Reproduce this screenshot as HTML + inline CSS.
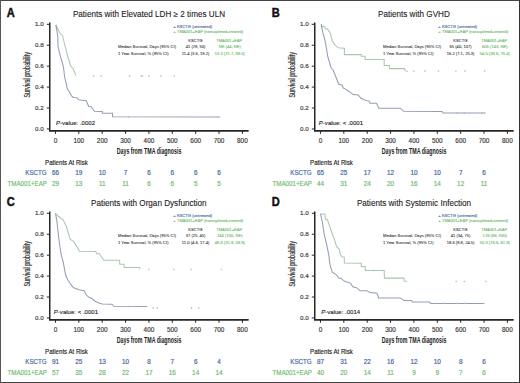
<!DOCTYPE html><html><head><meta charset="utf-8"><style>
html,body{margin:0;padding:0;background:#fff;}
svg{display:block;font-family:"Liberation Sans",sans-serif;}
</style></head><body>
<svg width="520" height="383" viewBox="0 0 520 383">
<rect x="0" y="0" width="520" height="383" fill="#fff"/>
<g transform="translate(0,0)">
<text x="6.80" y="16.90" font-size="12.0" font-weight="bold" fill="#111" stroke="#111" stroke-width="0.45" textLength="8.0" lengthAdjust="spacingAndGlyphs">A</text>
<text x="72.90" y="17.30" font-size="8.15" fill="#222" stroke="#222" stroke-width="0.1">Patients with Elevated LDH ≥ 2 times ULN</text>
<path d="M49.75,23.0 V130.8" fill="none" stroke="#262626" stroke-width="1.5" stroke-linecap="round"/>
<path d="M49.75,130.8 H248.0" fill="none" stroke="#262626" stroke-width="1.8" stroke-linecap="round"/>
<path d="M46.8,24.30 H49.75" stroke="#262626" stroke-width="1"/>
<text transform="translate(43.70,26.25) scale(1,0.86)" font-size="6.3" text-anchor="end" fill="#333" stroke="#333" stroke-width="0.15">1.0</text>
<path d="M46.8,45.23 H49.75" stroke="#262626" stroke-width="1"/>
<text transform="translate(43.70,47.18) scale(1,0.86)" font-size="6.3" text-anchor="end" fill="#333" stroke="#333" stroke-width="0.15">0.8</text>
<path d="M46.8,66.16 H49.75" stroke="#262626" stroke-width="1"/>
<text transform="translate(43.70,68.11) scale(1,0.86)" font-size="6.3" text-anchor="end" fill="#333" stroke="#333" stroke-width="0.15">0.6</text>
<path d="M46.8,87.09 H49.75" stroke="#262626" stroke-width="1"/>
<text transform="translate(43.70,89.04) scale(1,0.86)" font-size="6.3" text-anchor="end" fill="#333" stroke="#333" stroke-width="0.15">0.4</text>
<path d="M46.8,108.02 H49.75" stroke="#262626" stroke-width="1"/>
<text transform="translate(43.70,109.97) scale(1,0.86)" font-size="6.3" text-anchor="end" fill="#333" stroke="#333" stroke-width="0.15">0.2</text>
<path d="M46.8,128.95 H49.75" stroke="#262626" stroke-width="1"/>
<text transform="translate(43.70,130.90) scale(1,0.86)" font-size="6.3" text-anchor="end" fill="#333" stroke="#333" stroke-width="0.15">0.0</text>
<path d="M55.45,130.8 V133.8" stroke="#262626" stroke-width="1"/>
<text x="55.45" y="142.70" font-size="6.4" text-anchor="middle" fill="#333" stroke="#333" stroke-width="0.15">0</text>
<path d="M78.82,130.8 V133.8" stroke="#262626" stroke-width="1"/>
<text x="78.82" y="142.70" font-size="6.4" text-anchor="middle" fill="#333" stroke="#333" stroke-width="0.15">100</text>
<path d="M102.19,130.8 V133.8" stroke="#262626" stroke-width="1"/>
<text x="102.19" y="142.70" font-size="6.4" text-anchor="middle" fill="#333" stroke="#333" stroke-width="0.15">200</text>
<path d="M125.56,130.8 V133.8" stroke="#262626" stroke-width="1"/>
<text x="125.56" y="142.70" font-size="6.4" text-anchor="middle" fill="#333" stroke="#333" stroke-width="0.15">300</text>
<path d="M148.93,130.8 V133.8" stroke="#262626" stroke-width="1"/>
<text x="148.93" y="142.70" font-size="6.4" text-anchor="middle" fill="#333" stroke="#333" stroke-width="0.15">400</text>
<path d="M172.30,130.8 V133.8" stroke="#262626" stroke-width="1"/>
<text x="172.30" y="142.70" font-size="6.4" text-anchor="middle" fill="#333" stroke="#333" stroke-width="0.15">500</text>
<path d="M195.67,130.8 V133.8" stroke="#262626" stroke-width="1"/>
<text x="195.67" y="142.70" font-size="6.4" text-anchor="middle" fill="#333" stroke="#333" stroke-width="0.15">600</text>
<path d="M219.04,130.8 V133.8" stroke="#262626" stroke-width="1"/>
<text x="219.04" y="142.70" font-size="6.4" text-anchor="middle" fill="#333" stroke="#333" stroke-width="0.15">700</text>
<path d="M242.41,130.8 V133.8" stroke="#262626" stroke-width="1"/>
<text x="242.41" y="142.70" font-size="6.4" text-anchor="middle" fill="#333" stroke="#333" stroke-width="0.15">800</text>
<text x="116.70" y="154.10" font-size="8.4" font-weight="bold" fill="#222" textLength="64.7" lengthAdjust="spacingAndGlyphs">Days from TMA diagnosis</text>
<text transform="translate(29.9,97.5) rotate(-90)" x="0" y="0" font-size="8.2" fill="#333" stroke="#333" stroke-width="0.2" textLength="45.5" lengthAdjust="spacingAndGlyphs">Survival probability</text>
<text x="173.20" y="28.30" font-size="4.1" fill="#4669a3" stroke="#4669a3" stroke-width="0.12">+</text>
<text x="176.90" y="28.30" font-size="4.1" fill="#4669a3" stroke="#4669a3" stroke-width="0.12">KSCTG (untreated)</text>
<text x="173.20" y="32.60" font-size="4.1" fill="#70bd70" stroke="#70bd70" stroke-width="0.12">+</text>
<text x="176.90" y="32.60" font-size="4.1" fill="#70bd70" stroke="#70bd70" stroke-width="0.12">TMA001+EAP (narsoplimab-treated)</text>
<text x="195.40" y="41.60" font-size="4.1" text-anchor="middle" fill="#222" stroke="#222" stroke-width="0.05">KSCTG</text>
<text x="229.20" y="41.60" font-size="4.1" text-anchor="middle" fill="#70bd70" stroke="#70bd70" stroke-width="0.12">TMA001+EAP</text>
<text x="118.00" y="47.60" font-size="4.1" fill="#222" stroke="#222" stroke-width="0.05">Median Survival, Days (95% CI)</text>
<text x="118.00" y="54.80" font-size="4.1" fill="#222" stroke="#222" stroke-width="0.05">1 Year Survival, % (95% CI)</text>
<text x="195.60" y="47.60" font-size="4.1" text-anchor="middle" fill="#222" stroke="#222" stroke-width="0.05">41 (29, 50)</text>
<text x="195.60" y="54.80" font-size="4.1" text-anchor="middle" fill="#222" stroke="#222" stroke-width="0.05">11.4 (3.6, 19.2)</text>
<text x="229.80" y="47.60" font-size="4.1" text-anchor="middle" fill="#70bd70" stroke="#70bd70" stroke-width="0.12">NE (44, NE)</text>
<text x="229.80" y="54.80" font-size="4.1" text-anchor="middle" fill="#70bd70" stroke="#70bd70" stroke-width="0.12">53.3 (31.7, 69.0)</text>
<text x="56.00" y="125.00" font-size="6.05" fill="#222" stroke="#222" stroke-width="0.12"><tspan font-style="italic">P</tspan>-value: .0002</text>
<text transform="translate(45.10,164.90) scale(1,1.12)" font-size="6.1" fill="#222" stroke="#222" stroke-width="0.14">Patients At Risk</text>
<text transform="translate(46.60,175.40) scale(1,1.15)" font-size="6.2" text-anchor="end" fill="#4669a3" stroke="#4669a3" stroke-width="0.15">KSCTG</text>
<text transform="translate(46.90,185.70) scale(1,1.15)" font-size="6.2" text-anchor="end" fill="#70bd70" stroke="#70bd70" stroke-width="0.15">TMA001+EAP</text>
<text transform="translate(55.45,175.40) scale(1,1.12)" font-size="6.4" text-anchor="middle" fill="#4669a3" stroke="#4669a3" stroke-width="0.18">66</text>
<text transform="translate(55.45,185.70) scale(1,1.12)" font-size="6.4" text-anchor="middle" fill="#70bd70" stroke="#70bd70" stroke-width="0.18">29</text>
<text transform="translate(78.82,175.40) scale(1,1.12)" font-size="6.4" text-anchor="middle" fill="#4669a3" stroke="#4669a3" stroke-width="0.18">19</text>
<text transform="translate(78.82,185.70) scale(1,1.12)" font-size="6.4" text-anchor="middle" fill="#70bd70" stroke="#70bd70" stroke-width="0.18">13</text>
<text transform="translate(102.19,175.40) scale(1,1.12)" font-size="6.4" text-anchor="middle" fill="#4669a3" stroke="#4669a3" stroke-width="0.18">10</text>
<text transform="translate(102.19,185.70) scale(1,1.12)" font-size="6.4" text-anchor="middle" fill="#70bd70" stroke="#70bd70" stroke-width="0.18">11</text>
<text transform="translate(125.56,175.40) scale(1,1.12)" font-size="6.4" text-anchor="middle" fill="#4669a3" stroke="#4669a3" stroke-width="0.18">7</text>
<text transform="translate(125.56,185.70) scale(1,1.12)" font-size="6.4" text-anchor="middle" fill="#70bd70" stroke="#70bd70" stroke-width="0.18">11</text>
<text transform="translate(148.93,175.40) scale(1,1.12)" font-size="6.4" text-anchor="middle" fill="#4669a3" stroke="#4669a3" stroke-width="0.18">6</text>
<text transform="translate(148.93,185.70) scale(1,1.12)" font-size="6.4" text-anchor="middle" fill="#70bd70" stroke="#70bd70" stroke-width="0.18">6</text>
<text transform="translate(172.30,175.40) scale(1,1.12)" font-size="6.4" text-anchor="middle" fill="#4669a3" stroke="#4669a3" stroke-width="0.18">6</text>
<text transform="translate(172.30,185.70) scale(1,1.12)" font-size="6.4" text-anchor="middle" fill="#70bd70" stroke="#70bd70" stroke-width="0.18">6</text>
<text transform="translate(195.67,175.40) scale(1,1.12)" font-size="6.4" text-anchor="middle" fill="#4669a3" stroke="#4669a3" stroke-width="0.18">6</text>
<text transform="translate(195.67,185.70) scale(1,1.12)" font-size="6.4" text-anchor="middle" fill="#70bd70" stroke="#70bd70" stroke-width="0.18">5</text>
<text transform="translate(219.04,175.40) scale(1,1.12)" font-size="6.4" text-anchor="middle" fill="#4669a3" stroke="#4669a3" stroke-width="0.18">6</text>
<text transform="translate(219.04,185.70) scale(1,1.12)" font-size="6.4" text-anchor="middle" fill="#70bd70" stroke="#70bd70" stroke-width="0.18">5</text>
<path d="M55.9,24.8 L57.2,27.5 L58.4,30.0 L59.8,33.0 L62.0,35.2 L62.8,36.6 L64.2,42.5 L66.4,51.2 L67.9,57.1 L69.4,61.5 L70.4,65.5 L71.2,66.5 L73.0,68.8 L74.5,71.7 L75.9,75.6" fill="none" stroke="#a8c6ad" stroke-width="1.05" stroke-linejoin="miter"/>
<path d="M55.9,24.8 L56.9,30.8 L57.7,36.6 L58.1,46.9 L59.1,51.2 L60.6,57.1 L62.0,61.5 L63.5,67.3 L64.6,77.0 L66.5,84.5 L67.3,89.0 L69.5,92.0 L71.5,95.8 L73.5,97.5 L77.0,97.8 L79.0,100.0 L86.0,100.6 L88.7,106.3 L91.0,106.5 L94.5,111.2 L102.3,111.4 L102.3,113.3 L112.5,113.3 L112.5,116.8 L219.2,116.9" fill="none" stroke="#929eb5" stroke-width="1.05" stroke-linejoin="miter"/>
<path d="M92.7,75.9 H94.5 M93.6,75.0 V76.8" stroke="#b8c4b8" stroke-width="0.7"/>
<path d="M100.4,75.9 H102.2 M101.3,75.0 V76.8" stroke="#b8c4b8" stroke-width="0.7"/>
<path d="M128.7,75.9 H130.5 M129.6,75.0 V76.8" stroke="#b8c4b8" stroke-width="0.7"/>
<path d="M140.1,75.9 H141.9 M141.0,75.0 V76.8" stroke="#b8c4b8" stroke-width="0.7"/>
<path d="M141.7,75.9 H143.5 M142.6,75.0 V76.8" stroke="#b8c4b8" stroke-width="0.7"/>
<path d="M147.9,75.9 H149.7 M148.8,75.0 V76.8" stroke="#b8c4b8" stroke-width="0.7"/>
<path d="M159.9,75.9 H161.7 M160.8,75.0 V76.8" stroke="#b8c4b8" stroke-width="0.7"/>
<path d="M173.3,75.9 H175.1 M174.2,75.0 V76.8" stroke="#b8c4b8" stroke-width="0.7"/>
<path d="M127.6,116.9 H129.4 M128.5,116.0 V117.8" stroke="#b0b8c4" stroke-width="0.7"/>
<path d="M218.3,116.9 H220.1 M219.2,116.0 V117.8" stroke="#b0b8c4" stroke-width="0.7"/>
</g>
<g transform="translate(265,0)">
<text x="6.80" y="16.90" font-size="12.0" font-weight="bold" fill="#111" stroke="#111" stroke-width="0.45" textLength="8.0" lengthAdjust="spacingAndGlyphs">B</text>
<text x="113.00" y="17.30" font-size="8.15" fill="#222" stroke="#222" stroke-width="0.1">Patients with GVHD</text>
<path d="M49.75,23.0 V130.8" fill="none" stroke="#262626" stroke-width="1.5" stroke-linecap="round"/>
<path d="M49.75,130.8 H248.0" fill="none" stroke="#262626" stroke-width="1.8" stroke-linecap="round"/>
<path d="M46.8,24.30 H49.75" stroke="#262626" stroke-width="1"/>
<text transform="translate(43.70,26.25) scale(1,0.86)" font-size="6.3" text-anchor="end" fill="#333" stroke="#333" stroke-width="0.15">1.0</text>
<path d="M46.8,45.23 H49.75" stroke="#262626" stroke-width="1"/>
<text transform="translate(43.70,47.18) scale(1,0.86)" font-size="6.3" text-anchor="end" fill="#333" stroke="#333" stroke-width="0.15">0.8</text>
<path d="M46.8,66.16 H49.75" stroke="#262626" stroke-width="1"/>
<text transform="translate(43.70,68.11) scale(1,0.86)" font-size="6.3" text-anchor="end" fill="#333" stroke="#333" stroke-width="0.15">0.6</text>
<path d="M46.8,87.09 H49.75" stroke="#262626" stroke-width="1"/>
<text transform="translate(43.70,89.04) scale(1,0.86)" font-size="6.3" text-anchor="end" fill="#333" stroke="#333" stroke-width="0.15">0.4</text>
<path d="M46.8,108.02 H49.75" stroke="#262626" stroke-width="1"/>
<text transform="translate(43.70,109.97) scale(1,0.86)" font-size="6.3" text-anchor="end" fill="#333" stroke="#333" stroke-width="0.15">0.2</text>
<path d="M46.8,128.95 H49.75" stroke="#262626" stroke-width="1"/>
<text transform="translate(43.70,130.90) scale(1,0.86)" font-size="6.3" text-anchor="end" fill="#333" stroke="#333" stroke-width="0.15">0.0</text>
<path d="M55.45,130.8 V133.8" stroke="#262626" stroke-width="1"/>
<text x="55.45" y="142.70" font-size="6.4" text-anchor="middle" fill="#333" stroke="#333" stroke-width="0.15">0</text>
<path d="M78.82,130.8 V133.8" stroke="#262626" stroke-width="1"/>
<text x="78.82" y="142.70" font-size="6.4" text-anchor="middle" fill="#333" stroke="#333" stroke-width="0.15">100</text>
<path d="M102.19,130.8 V133.8" stroke="#262626" stroke-width="1"/>
<text x="102.19" y="142.70" font-size="6.4" text-anchor="middle" fill="#333" stroke="#333" stroke-width="0.15">200</text>
<path d="M125.56,130.8 V133.8" stroke="#262626" stroke-width="1"/>
<text x="125.56" y="142.70" font-size="6.4" text-anchor="middle" fill="#333" stroke="#333" stroke-width="0.15">300</text>
<path d="M148.93,130.8 V133.8" stroke="#262626" stroke-width="1"/>
<text x="148.93" y="142.70" font-size="6.4" text-anchor="middle" fill="#333" stroke="#333" stroke-width="0.15">400</text>
<path d="M172.30,130.8 V133.8" stroke="#262626" stroke-width="1"/>
<text x="172.30" y="142.70" font-size="6.4" text-anchor="middle" fill="#333" stroke="#333" stroke-width="0.15">500</text>
<path d="M195.67,130.8 V133.8" stroke="#262626" stroke-width="1"/>
<text x="195.67" y="142.70" font-size="6.4" text-anchor="middle" fill="#333" stroke="#333" stroke-width="0.15">600</text>
<path d="M219.04,130.8 V133.8" stroke="#262626" stroke-width="1"/>
<text x="219.04" y="142.70" font-size="6.4" text-anchor="middle" fill="#333" stroke="#333" stroke-width="0.15">700</text>
<path d="M242.41,130.8 V133.8" stroke="#262626" stroke-width="1"/>
<text x="242.41" y="142.70" font-size="6.4" text-anchor="middle" fill="#333" stroke="#333" stroke-width="0.15">800</text>
<text x="116.70" y="154.10" font-size="8.4" font-weight="bold" fill="#222" textLength="64.7" lengthAdjust="spacingAndGlyphs">Days from TMA diagnosis</text>
<text transform="translate(29.9,97.5) rotate(-90)" x="0" y="0" font-size="8.2" fill="#333" stroke="#333" stroke-width="0.2" textLength="45.5" lengthAdjust="spacingAndGlyphs">Survival probability</text>
<text x="173.20" y="28.30" font-size="4.1" fill="#4669a3" stroke="#4669a3" stroke-width="0.12">+</text>
<text x="176.90" y="28.30" font-size="4.1" fill="#4669a3" stroke="#4669a3" stroke-width="0.12">KSCTG (untreated)</text>
<text x="173.20" y="32.60" font-size="4.1" fill="#70bd70" stroke="#70bd70" stroke-width="0.12">+</text>
<text x="176.90" y="32.60" font-size="4.1" fill="#70bd70" stroke="#70bd70" stroke-width="0.12">TMA001+EAP (narsoplimab-treated)</text>
<text x="195.40" y="41.60" font-size="4.1" text-anchor="middle" fill="#222" stroke="#222" stroke-width="0.05">KSCTG</text>
<text x="229.20" y="41.60" font-size="4.1" text-anchor="middle" fill="#70bd70" stroke="#70bd70" stroke-width="0.12">TMA001+EAP</text>
<text x="118.00" y="47.60" font-size="4.1" fill="#222" stroke="#222" stroke-width="0.05">Median Survival, Days (95% CI)</text>
<text x="118.00" y="54.80" font-size="4.1" fill="#222" stroke="#222" stroke-width="0.05">1 Year Survival, % (95% CI)</text>
<text x="195.60" y="47.60" font-size="4.1" text-anchor="middle" fill="#222" stroke="#222" stroke-width="0.05">65 (40, 107)</text>
<text x="195.60" y="54.80" font-size="4.1" text-anchor="middle" fill="#222" stroke="#222" stroke-width="0.05">16.2 (7.1, 25.3)</text>
<text x="229.80" y="47.60" font-size="4.1" text-anchor="middle" fill="#70bd70" stroke="#70bd70" stroke-width="0.12">605 (143, NE)</text>
<text x="229.80" y="54.80" font-size="4.1" text-anchor="middle" fill="#70bd70" stroke="#70bd70" stroke-width="0.12">54.5 (38.6, 70.4)</text>
<text x="53.80" y="125.00" font-size="6.05" fill="#222" stroke="#222" stroke-width="0.12"><tspan font-style="italic">P</tspan>-value: < .0001</text>
<text transform="translate(45.10,164.90) scale(1,1.12)" font-size="6.1" fill="#222" stroke="#222" stroke-width="0.14">Patients At Risk</text>
<text transform="translate(46.60,175.40) scale(1,1.15)" font-size="6.2" text-anchor="end" fill="#4669a3" stroke="#4669a3" stroke-width="0.15">KSCTG</text>
<text transform="translate(46.90,185.70) scale(1,1.15)" font-size="6.2" text-anchor="end" fill="#70bd70" stroke="#70bd70" stroke-width="0.15">TMA001+EAP</text>
<text transform="translate(55.45,175.40) scale(1,1.12)" font-size="6.4" text-anchor="middle" fill="#4669a3" stroke="#4669a3" stroke-width="0.18">65</text>
<text transform="translate(55.45,185.70) scale(1,1.12)" font-size="6.4" text-anchor="middle" fill="#70bd70" stroke="#70bd70" stroke-width="0.18">44</text>
<text transform="translate(78.82,175.40) scale(1,1.12)" font-size="6.4" text-anchor="middle" fill="#4669a3" stroke="#4669a3" stroke-width="0.18">25</text>
<text transform="translate(78.82,185.70) scale(1,1.12)" font-size="6.4" text-anchor="middle" fill="#70bd70" stroke="#70bd70" stroke-width="0.18">31</text>
<text transform="translate(102.19,175.40) scale(1,1.12)" font-size="6.4" text-anchor="middle" fill="#4669a3" stroke="#4669a3" stroke-width="0.18">17</text>
<text transform="translate(102.19,185.70) scale(1,1.12)" font-size="6.4" text-anchor="middle" fill="#70bd70" stroke="#70bd70" stroke-width="0.18">24</text>
<text transform="translate(125.56,175.40) scale(1,1.12)" font-size="6.4" text-anchor="middle" fill="#4669a3" stroke="#4669a3" stroke-width="0.18">12</text>
<text transform="translate(125.56,185.70) scale(1,1.12)" font-size="6.4" text-anchor="middle" fill="#70bd70" stroke="#70bd70" stroke-width="0.18">20</text>
<text transform="translate(148.93,175.40) scale(1,1.12)" font-size="6.4" text-anchor="middle" fill="#4669a3" stroke="#4669a3" stroke-width="0.18">10</text>
<text transform="translate(148.93,185.70) scale(1,1.12)" font-size="6.4" text-anchor="middle" fill="#70bd70" stroke="#70bd70" stroke-width="0.18">16</text>
<text transform="translate(172.30,175.40) scale(1,1.12)" font-size="6.4" text-anchor="middle" fill="#4669a3" stroke="#4669a3" stroke-width="0.18">10</text>
<text transform="translate(172.30,185.70) scale(1,1.12)" font-size="6.4" text-anchor="middle" fill="#70bd70" stroke="#70bd70" stroke-width="0.18">14</text>
<text transform="translate(195.67,175.40) scale(1,1.12)" font-size="6.4" text-anchor="middle" fill="#4669a3" stroke="#4669a3" stroke-width="0.18">7</text>
<text transform="translate(195.67,185.70) scale(1,1.12)" font-size="6.4" text-anchor="middle" fill="#70bd70" stroke="#70bd70" stroke-width="0.18">12</text>
<text transform="translate(219.04,175.40) scale(1,1.12)" font-size="6.4" text-anchor="middle" fill="#4669a3" stroke="#4669a3" stroke-width="0.18">6</text>
<text transform="translate(219.04,185.70) scale(1,1.12)" font-size="6.4" text-anchor="middle" fill="#70bd70" stroke="#70bd70" stroke-width="0.18">11</text>
<path d="M56.2,24.4 L57.3,26.3 L59.7,26.7 L60.4,28.7 L62.4,29.0 L63.6,30.6 L64.7,32.2 L65.5,33.7 L66.3,37.7 L67.1,40.8 L68.3,42.4 L69.1,43.9 L70.6,45.5 L71.8,46.7 L73.4,47.8 L79.4,48.2 L79.4,54.6 L96.3,54.6 L96.3,56.3 L100.2,56.3 L100.2,59.4 L119.2,59.4 L119.2,65.5 L124.4,65.5 L124.4,68.6 L139.6,68.6 L140.2,71.3" fill="none" stroke="#a8c6ad" stroke-width="1.05" stroke-linejoin="miter"/>
<path d="M56.2,24.4 L57.3,29.8 L57.7,32.2 L59.3,37.7 L60.4,42.4 L61.2,47.1 L62.0,52.0 L62.6,56.0 L65.0,64.0 L66.1,68.0 L68.1,70.0 L70.4,75.8 L72.0,79.7 L73.6,84.0 L77.1,85.2 L78.3,88.0 L80.6,89.1 L83.0,90.7 L85.3,92.3 L88.1,94.6 L93.3,95.0 L95.9,98.3 L99.0,99.8 L102.0,100.8 L104.0,101.0 L105.2,103.3 L111.5,103.3 L113.8,108.2 L135.2,108.2 L138.6,111.3 L177.2,111.6 L178.0,113.0 L219.6,113.0" fill="none" stroke="#929eb5" stroke-width="1.05" stroke-linejoin="miter"/>
<path d="M141.0,71.2 H142.8 M141.9,70.3 V72.1" stroke="#b8c4b8" stroke-width="0.7"/>
<path d="M147.9,71.2 H149.7 M148.8,70.3 V72.1" stroke="#b8c4b8" stroke-width="0.7"/>
<path d="M159.1,71.2 H160.9 M160.0,70.3 V72.1" stroke="#b8c4b8" stroke-width="0.7"/>
<path d="M172.6,71.2 H174.4 M173.5,70.3 V72.1" stroke="#b8c4b8" stroke-width="0.7"/>
<path d="M189.9,71.2 H191.7 M190.8,70.3 V72.1" stroke="#b8c4b8" stroke-width="0.7"/>
<path d="M199.1,71.2 H200.9 M200.0,70.3 V72.1" stroke="#b8c4b8" stroke-width="0.7"/>
<path d="M218.7,71.2 H220.5 M219.6,70.3 V72.1" stroke="#b8c4b8" stroke-width="0.7"/>
<path d="M191.1,113.0 H192.9 M192.0,112.1 V113.9" stroke="#b0b8c4" stroke-width="0.7"/>
<path d="M198.5,113.0 H200.3 M199.4,112.1 V113.9" stroke="#b0b8c4" stroke-width="0.7"/>
<path d="M216.0,113.0 H217.8 M216.9,112.1 V113.9" stroke="#b0b8c4" stroke-width="0.7"/>
<path d="M218.7,113.0 H220.5 M219.6,112.1 V113.9" stroke="#b0b8c4" stroke-width="0.7"/>
</g>
<g transform="translate(0,189)">
<text x="6.80" y="16.90" font-size="12.0" font-weight="bold" fill="#111" stroke="#111" stroke-width="0.45" textLength="8.0" lengthAdjust="spacingAndGlyphs">C</text>
<text x="91.00" y="17.30" font-size="8.15" fill="#222" stroke="#222" stroke-width="0.1">Patients with Organ Dysfunction</text>
<path d="M49.75,23.0 V130.8" fill="none" stroke="#262626" stroke-width="1.5" stroke-linecap="round"/>
<path d="M49.75,130.8 H248.0" fill="none" stroke="#262626" stroke-width="1.8" stroke-linecap="round"/>
<path d="M46.8,24.30 H49.75" stroke="#262626" stroke-width="1"/>
<text transform="translate(43.70,26.25) scale(1,0.86)" font-size="6.3" text-anchor="end" fill="#333" stroke="#333" stroke-width="0.15">1.0</text>
<path d="M46.8,45.23 H49.75" stroke="#262626" stroke-width="1"/>
<text transform="translate(43.70,47.18) scale(1,0.86)" font-size="6.3" text-anchor="end" fill="#333" stroke="#333" stroke-width="0.15">0.8</text>
<path d="M46.8,66.16 H49.75" stroke="#262626" stroke-width="1"/>
<text transform="translate(43.70,68.11) scale(1,0.86)" font-size="6.3" text-anchor="end" fill="#333" stroke="#333" stroke-width="0.15">0.6</text>
<path d="M46.8,87.09 H49.75" stroke="#262626" stroke-width="1"/>
<text transform="translate(43.70,89.04) scale(1,0.86)" font-size="6.3" text-anchor="end" fill="#333" stroke="#333" stroke-width="0.15">0.4</text>
<path d="M46.8,108.02 H49.75" stroke="#262626" stroke-width="1"/>
<text transform="translate(43.70,109.97) scale(1,0.86)" font-size="6.3" text-anchor="end" fill="#333" stroke="#333" stroke-width="0.15">0.2</text>
<path d="M46.8,128.95 H49.75" stroke="#262626" stroke-width="1"/>
<text transform="translate(43.70,130.90) scale(1,0.86)" font-size="6.3" text-anchor="end" fill="#333" stroke="#333" stroke-width="0.15">0.0</text>
<path d="M55.45,130.8 V133.8" stroke="#262626" stroke-width="1"/>
<text x="55.45" y="142.70" font-size="6.4" text-anchor="middle" fill="#333" stroke="#333" stroke-width="0.15">0</text>
<path d="M78.82,130.8 V133.8" stroke="#262626" stroke-width="1"/>
<text x="78.82" y="142.70" font-size="6.4" text-anchor="middle" fill="#333" stroke="#333" stroke-width="0.15">100</text>
<path d="M102.19,130.8 V133.8" stroke="#262626" stroke-width="1"/>
<text x="102.19" y="142.70" font-size="6.4" text-anchor="middle" fill="#333" stroke="#333" stroke-width="0.15">200</text>
<path d="M125.56,130.8 V133.8" stroke="#262626" stroke-width="1"/>
<text x="125.56" y="142.70" font-size="6.4" text-anchor="middle" fill="#333" stroke="#333" stroke-width="0.15">300</text>
<path d="M148.93,130.8 V133.8" stroke="#262626" stroke-width="1"/>
<text x="148.93" y="142.70" font-size="6.4" text-anchor="middle" fill="#333" stroke="#333" stroke-width="0.15">400</text>
<path d="M172.30,130.8 V133.8" stroke="#262626" stroke-width="1"/>
<text x="172.30" y="142.70" font-size="6.4" text-anchor="middle" fill="#333" stroke="#333" stroke-width="0.15">500</text>
<path d="M195.67,130.8 V133.8" stroke="#262626" stroke-width="1"/>
<text x="195.67" y="142.70" font-size="6.4" text-anchor="middle" fill="#333" stroke="#333" stroke-width="0.15">600</text>
<path d="M219.04,130.8 V133.8" stroke="#262626" stroke-width="1"/>
<text x="219.04" y="142.70" font-size="6.4" text-anchor="middle" fill="#333" stroke="#333" stroke-width="0.15">700</text>
<path d="M242.41,130.8 V133.8" stroke="#262626" stroke-width="1"/>
<text x="242.41" y="142.70" font-size="6.4" text-anchor="middle" fill="#333" stroke="#333" stroke-width="0.15">800</text>
<text x="116.70" y="154.10" font-size="8.4" font-weight="bold" fill="#222" textLength="64.7" lengthAdjust="spacingAndGlyphs">Days from TMA diagnosis</text>
<text transform="translate(29.9,97.5) rotate(-90)" x="0" y="0" font-size="8.2" fill="#333" stroke="#333" stroke-width="0.2" textLength="45.5" lengthAdjust="spacingAndGlyphs">Survival probability</text>
<text x="173.20" y="28.30" font-size="4.1" fill="#4669a3" stroke="#4669a3" stroke-width="0.12">+</text>
<text x="176.90" y="28.30" font-size="4.1" fill="#4669a3" stroke="#4669a3" stroke-width="0.12">KSCTG (untreated)</text>
<text x="173.20" y="32.60" font-size="4.1" fill="#70bd70" stroke="#70bd70" stroke-width="0.12">+</text>
<text x="176.90" y="32.60" font-size="4.1" fill="#70bd70" stroke="#70bd70" stroke-width="0.12">TMA001+EAP (narsoplimab-treated)</text>
<text x="195.40" y="41.60" font-size="4.1" text-anchor="middle" fill="#222" stroke="#222" stroke-width="0.05">KSCTG</text>
<text x="229.20" y="41.60" font-size="4.1" text-anchor="middle" fill="#70bd70" stroke="#70bd70" stroke-width="0.12">TMA001+EAP</text>
<text x="118.00" y="47.60" font-size="4.1" fill="#222" stroke="#222" stroke-width="0.05">Median Survival, Days (95% CI)</text>
<text x="118.00" y="54.80" font-size="4.1" fill="#222" stroke="#222" stroke-width="0.05">1 Year Survival, % (95% CI)</text>
<text x="195.60" y="47.60" font-size="4.1" text-anchor="middle" fill="#222" stroke="#222" stroke-width="0.05">37 (25, 45)</text>
<text x="195.60" y="54.80" font-size="4.1" text-anchor="middle" fill="#222" stroke="#222" stroke-width="0.05">11.0 (4.6, 17.4)</text>
<text x="229.80" y="47.60" font-size="4.1" text-anchor="middle" fill="#70bd70" stroke="#70bd70" stroke-width="0.12">244 (100, NE)</text>
<text x="229.80" y="54.80" font-size="4.1" text-anchor="middle" fill="#70bd70" stroke="#70bd70" stroke-width="0.12">46.8 (31.9, 59.9)</text>
<text x="53.80" y="125.00" font-size="6.05" fill="#222" stroke="#222" stroke-width="0.12"><tspan font-style="italic">P</tspan>-value: < .0001</text>
<text transform="translate(45.10,164.90) scale(1,1.12)" font-size="6.1" fill="#222" stroke="#222" stroke-width="0.14">Patients At Risk</text>
<text transform="translate(46.60,175.40) scale(1,1.15)" font-size="6.2" text-anchor="end" fill="#4669a3" stroke="#4669a3" stroke-width="0.15">KSCTG</text>
<text transform="translate(46.90,185.70) scale(1,1.15)" font-size="6.2" text-anchor="end" fill="#70bd70" stroke="#70bd70" stroke-width="0.15">TMA001+EAP</text>
<text transform="translate(55.45,175.40) scale(1,1.12)" font-size="6.4" text-anchor="middle" fill="#4669a3" stroke="#4669a3" stroke-width="0.18">91</text>
<text transform="translate(55.45,185.70) scale(1,1.12)" font-size="6.4" text-anchor="middle" fill="#70bd70" stroke="#70bd70" stroke-width="0.18">57</text>
<text transform="translate(78.82,175.40) scale(1,1.12)" font-size="6.4" text-anchor="middle" fill="#4669a3" stroke="#4669a3" stroke-width="0.18">25</text>
<text transform="translate(78.82,185.70) scale(1,1.12)" font-size="6.4" text-anchor="middle" fill="#70bd70" stroke="#70bd70" stroke-width="0.18">35</text>
<text transform="translate(102.19,175.40) scale(1,1.12)" font-size="6.4" text-anchor="middle" fill="#4669a3" stroke="#4669a3" stroke-width="0.18">13</text>
<text transform="translate(102.19,185.70) scale(1,1.12)" font-size="6.4" text-anchor="middle" fill="#70bd70" stroke="#70bd70" stroke-width="0.18">28</text>
<text transform="translate(125.56,175.40) scale(1,1.12)" font-size="6.4" text-anchor="middle" fill="#4669a3" stroke="#4669a3" stroke-width="0.18">10</text>
<text transform="translate(125.56,185.70) scale(1,1.12)" font-size="6.4" text-anchor="middle" fill="#70bd70" stroke="#70bd70" stroke-width="0.18">22</text>
<text transform="translate(148.93,175.40) scale(1,1.12)" font-size="6.4" text-anchor="middle" fill="#4669a3" stroke="#4669a3" stroke-width="0.18">8</text>
<text transform="translate(148.93,185.70) scale(1,1.12)" font-size="6.4" text-anchor="middle" fill="#70bd70" stroke="#70bd70" stroke-width="0.18">17</text>
<text transform="translate(172.30,175.40) scale(1,1.12)" font-size="6.4" text-anchor="middle" fill="#4669a3" stroke="#4669a3" stroke-width="0.18">7</text>
<text transform="translate(172.30,185.70) scale(1,1.12)" font-size="6.4" text-anchor="middle" fill="#70bd70" stroke="#70bd70" stroke-width="0.18">16</text>
<text transform="translate(195.67,175.40) scale(1,1.12)" font-size="6.4" text-anchor="middle" fill="#4669a3" stroke="#4669a3" stroke-width="0.18">6</text>
<text transform="translate(195.67,185.70) scale(1,1.12)" font-size="6.4" text-anchor="middle" fill="#70bd70" stroke="#70bd70" stroke-width="0.18">14</text>
<text transform="translate(219.04,175.40) scale(1,1.12)" font-size="6.4" text-anchor="middle" fill="#4669a3" stroke="#4669a3" stroke-width="0.18">4</text>
<text transform="translate(219.04,185.70) scale(1,1.12)" font-size="6.4" text-anchor="middle" fill="#70bd70" stroke="#70bd70" stroke-width="0.18">14</text>
<path d="M55.5,24.3 L58.0,27.0 L63.1,30.8 L66.3,37.3 L68.3,43.8 L70.2,50.4 L73.5,52.3 L75.5,55.6 L77.4,58.2 L79.4,62.2 L95.8,62.4 L96.5,64.8 L99.5,64.8 L100.4,66.6 L103.8,71.3 L119.6,71.3 L119.8,75.3 L124.0,75.3 L124.3,78.4 L139.6,78.4 L140.0,80.4" fill="none" stroke="#a8c6ad" stroke-width="1.05" stroke-linejoin="miter"/>
<path d="M55.5,24.3 L57.0,33.0 L58.5,47.0 L60.2,59.0 L61.2,66.0 L63.1,72.3 L64.6,80.6 L65.6,85.8 L67.5,90.5 L70.1,94.2 L72.7,97.9 L74.8,99.2 L78.5,100.5 L81.6,101.2 L84.0,101.6 L86.5,106.0 L88.8,108.3 L91.9,109.5 L95.0,112.2 L99.6,114.3 L102.3,115.1 L111.9,115.2 L113.8,117.3 L147.2,117.5" fill="none" stroke="#929eb5" stroke-width="1.05" stroke-linejoin="miter"/>
<path d="M147.9,80.4 H149.7 M148.8,79.5 V81.3" stroke="#b8c4b8" stroke-width="0.7"/>
<path d="M172.9,80.4 H174.7 M173.8,79.5 V81.3" stroke="#b8c4b8" stroke-width="0.7"/>
<path d="M190.3,80.4 H192.1 M191.2,79.5 V81.3" stroke="#b8c4b8" stroke-width="0.7"/>
<path d="M220.4,80.4 H222.2 M221.3,79.5 V81.3" stroke="#b8c4b8" stroke-width="0.7"/>
<path d="M127.5,117.5 H129.3 M128.4,116.6 V118.4" stroke="#b0b8c4" stroke-width="0.7"/>
<path d="M152.2,118.9 H154.0 M153.1,118.0 V119.8" stroke="#b0b8c4" stroke-width="0.7"/>
<path d="M156.4,118.9 H158.2 M157.3,118.0 V119.8" stroke="#b0b8c4" stroke-width="0.7"/>
<path d="M190.6,118.9 H192.4 M191.5,118.0 V119.8" stroke="#b0b8c4" stroke-width="0.7"/>
<path d="M197.8,118.9 H199.6 M198.7,118.0 V119.8" stroke="#b0b8c4" stroke-width="0.7"/>
</g>
<g transform="translate(265,189)">
<text x="6.80" y="16.90" font-size="12.0" font-weight="bold" fill="#111" stroke="#111" stroke-width="0.45" textLength="8.0" lengthAdjust="spacingAndGlyphs">D</text>
<text x="91.90" y="17.30" font-size="8.15" fill="#222" stroke="#222" stroke-width="0.1">Patients with Systemic Infection</text>
<path d="M49.75,23.0 V130.8" fill="none" stroke="#262626" stroke-width="1.5" stroke-linecap="round"/>
<path d="M49.75,130.8 H248.0" fill="none" stroke="#262626" stroke-width="1.8" stroke-linecap="round"/>
<path d="M46.8,24.30 H49.75" stroke="#262626" stroke-width="1"/>
<text transform="translate(43.70,26.25) scale(1,0.86)" font-size="6.3" text-anchor="end" fill="#333" stroke="#333" stroke-width="0.15">1.0</text>
<path d="M46.8,45.23 H49.75" stroke="#262626" stroke-width="1"/>
<text transform="translate(43.70,47.18) scale(1,0.86)" font-size="6.3" text-anchor="end" fill="#333" stroke="#333" stroke-width="0.15">0.8</text>
<path d="M46.8,66.16 H49.75" stroke="#262626" stroke-width="1"/>
<text transform="translate(43.70,68.11) scale(1,0.86)" font-size="6.3" text-anchor="end" fill="#333" stroke="#333" stroke-width="0.15">0.6</text>
<path d="M46.8,87.09 H49.75" stroke="#262626" stroke-width="1"/>
<text transform="translate(43.70,89.04) scale(1,0.86)" font-size="6.3" text-anchor="end" fill="#333" stroke="#333" stroke-width="0.15">0.4</text>
<path d="M46.8,108.02 H49.75" stroke="#262626" stroke-width="1"/>
<text transform="translate(43.70,109.97) scale(1,0.86)" font-size="6.3" text-anchor="end" fill="#333" stroke="#333" stroke-width="0.15">0.2</text>
<path d="M46.8,128.95 H49.75" stroke="#262626" stroke-width="1"/>
<text transform="translate(43.70,130.90) scale(1,0.86)" font-size="6.3" text-anchor="end" fill="#333" stroke="#333" stroke-width="0.15">0.0</text>
<path d="M55.45,130.8 V133.8" stroke="#262626" stroke-width="1"/>
<text x="55.45" y="142.70" font-size="6.4" text-anchor="middle" fill="#333" stroke="#333" stroke-width="0.15">0</text>
<path d="M78.82,130.8 V133.8" stroke="#262626" stroke-width="1"/>
<text x="78.82" y="142.70" font-size="6.4" text-anchor="middle" fill="#333" stroke="#333" stroke-width="0.15">100</text>
<path d="M102.19,130.8 V133.8" stroke="#262626" stroke-width="1"/>
<text x="102.19" y="142.70" font-size="6.4" text-anchor="middle" fill="#333" stroke="#333" stroke-width="0.15">200</text>
<path d="M125.56,130.8 V133.8" stroke="#262626" stroke-width="1"/>
<text x="125.56" y="142.70" font-size="6.4" text-anchor="middle" fill="#333" stroke="#333" stroke-width="0.15">300</text>
<path d="M148.93,130.8 V133.8" stroke="#262626" stroke-width="1"/>
<text x="148.93" y="142.70" font-size="6.4" text-anchor="middle" fill="#333" stroke="#333" stroke-width="0.15">400</text>
<path d="M172.30,130.8 V133.8" stroke="#262626" stroke-width="1"/>
<text x="172.30" y="142.70" font-size="6.4" text-anchor="middle" fill="#333" stroke="#333" stroke-width="0.15">500</text>
<path d="M195.67,130.8 V133.8" stroke="#262626" stroke-width="1"/>
<text x="195.67" y="142.70" font-size="6.4" text-anchor="middle" fill="#333" stroke="#333" stroke-width="0.15">600</text>
<path d="M219.04,130.8 V133.8" stroke="#262626" stroke-width="1"/>
<text x="219.04" y="142.70" font-size="6.4" text-anchor="middle" fill="#333" stroke="#333" stroke-width="0.15">700</text>
<path d="M242.41,130.8 V133.8" stroke="#262626" stroke-width="1"/>
<text x="242.41" y="142.70" font-size="6.4" text-anchor="middle" fill="#333" stroke="#333" stroke-width="0.15">800</text>
<text x="116.70" y="154.10" font-size="8.4" font-weight="bold" fill="#222" textLength="64.7" lengthAdjust="spacingAndGlyphs">Days from TMA diagnosis</text>
<text transform="translate(29.9,97.5) rotate(-90)" x="0" y="0" font-size="8.2" fill="#333" stroke="#333" stroke-width="0.2" textLength="45.5" lengthAdjust="spacingAndGlyphs">Survival probability</text>
<text x="173.20" y="28.30" font-size="4.1" fill="#4669a3" stroke="#4669a3" stroke-width="0.12">+</text>
<text x="176.90" y="28.30" font-size="4.1" fill="#4669a3" stroke="#4669a3" stroke-width="0.12">KSCTG (untreated)</text>
<text x="173.20" y="32.60" font-size="4.1" fill="#70bd70" stroke="#70bd70" stroke-width="0.12">+</text>
<text x="176.90" y="32.60" font-size="4.1" fill="#70bd70" stroke="#70bd70" stroke-width="0.12">TMA001+EAP (narsoplimab-treated)</text>
<text x="195.40" y="41.60" font-size="4.1" text-anchor="middle" fill="#222" stroke="#222" stroke-width="0.05">KSCTG</text>
<text x="229.20" y="41.60" font-size="4.1" text-anchor="middle" fill="#70bd70" stroke="#70bd70" stroke-width="0.12">TMA001+EAP</text>
<text x="118.00" y="47.60" font-size="4.1" fill="#222" stroke="#222" stroke-width="0.05">Median Survival, Days (95% CI)</text>
<text x="118.00" y="54.80" font-size="4.1" fill="#222" stroke="#222" stroke-width="0.05">1 Year Survival, % (95% CI)</text>
<text x="195.60" y="47.60" font-size="4.1" text-anchor="middle" fill="#222" stroke="#222" stroke-width="0.05">41 (34, 75)</text>
<text x="195.60" y="54.80" font-size="4.1" text-anchor="middle" fill="#222" stroke="#222" stroke-width="0.05">18.6 (8.8, 24.5)</text>
<text x="229.80" y="47.60" font-size="4.1" text-anchor="middle" fill="#70bd70" stroke="#70bd70" stroke-width="0.12">176 (69, 830)</text>
<text x="229.80" y="54.80" font-size="4.1" text-anchor="middle" fill="#70bd70" stroke="#70bd70" stroke-width="0.12">50.3 (19.6, 61.9)</text>
<text x="56.20" y="125.00" font-size="6.05" fill="#222" stroke="#222" stroke-width="0.12"><tspan font-style="italic">P</tspan>-value: .0014</text>
<text transform="translate(45.10,164.90) scale(1,1.12)" font-size="6.1" fill="#222" stroke="#222" stroke-width="0.14">Patients At Risk</text>
<text transform="translate(46.60,175.40) scale(1,1.15)" font-size="6.2" text-anchor="end" fill="#4669a3" stroke="#4669a3" stroke-width="0.15">KSCTG</text>
<text transform="translate(46.90,185.70) scale(1,1.15)" font-size="6.2" text-anchor="end" fill="#70bd70" stroke="#70bd70" stroke-width="0.15">TMA001+EAP</text>
<text transform="translate(55.45,175.40) scale(1,1.12)" font-size="6.4" text-anchor="middle" fill="#4669a3" stroke="#4669a3" stroke-width="0.18">87</text>
<text transform="translate(55.45,185.70) scale(1,1.12)" font-size="6.4" text-anchor="middle" fill="#70bd70" stroke="#70bd70" stroke-width="0.18">40</text>
<text transform="translate(78.82,175.40) scale(1,1.12)" font-size="6.4" text-anchor="middle" fill="#4669a3" stroke="#4669a3" stroke-width="0.18">31</text>
<text transform="translate(78.82,185.70) scale(1,1.12)" font-size="6.4" text-anchor="middle" fill="#70bd70" stroke="#70bd70" stroke-width="0.18">20</text>
<text transform="translate(102.19,175.40) scale(1,1.12)" font-size="6.4" text-anchor="middle" fill="#4669a3" stroke="#4669a3" stroke-width="0.18">22</text>
<text transform="translate(102.19,185.70) scale(1,1.12)" font-size="6.4" text-anchor="middle" fill="#70bd70" stroke="#70bd70" stroke-width="0.18">14</text>
<text transform="translate(125.56,175.40) scale(1,1.12)" font-size="6.4" text-anchor="middle" fill="#4669a3" stroke="#4669a3" stroke-width="0.18">16</text>
<text transform="translate(125.56,185.70) scale(1,1.12)" font-size="6.4" text-anchor="middle" fill="#70bd70" stroke="#70bd70" stroke-width="0.18">11</text>
<text transform="translate(148.93,175.40) scale(1,1.12)" font-size="6.4" text-anchor="middle" fill="#4669a3" stroke="#4669a3" stroke-width="0.18">12</text>
<text transform="translate(148.93,185.70) scale(1,1.12)" font-size="6.4" text-anchor="middle" fill="#70bd70" stroke="#70bd70" stroke-width="0.18">9</text>
<text transform="translate(172.30,175.40) scale(1,1.12)" font-size="6.4" text-anchor="middle" fill="#4669a3" stroke="#4669a3" stroke-width="0.18">10</text>
<text transform="translate(172.30,185.70) scale(1,1.12)" font-size="6.4" text-anchor="middle" fill="#70bd70" stroke="#70bd70" stroke-width="0.18">9</text>
<text transform="translate(195.67,175.40) scale(1,1.12)" font-size="6.4" text-anchor="middle" fill="#4669a3" stroke="#4669a3" stroke-width="0.18">8</text>
<text transform="translate(195.67,185.70) scale(1,1.12)" font-size="6.4" text-anchor="middle" fill="#70bd70" stroke="#70bd70" stroke-width="0.18">7</text>
<text transform="translate(219.04,175.40) scale(1,1.12)" font-size="6.4" text-anchor="middle" fill="#4669a3" stroke="#4669a3" stroke-width="0.18">6</text>
<text transform="translate(219.04,185.70) scale(1,1.12)" font-size="6.4" text-anchor="middle" fill="#70bd70" stroke="#70bd70" stroke-width="0.18">6</text>
<path d="M55.5,24.9 L59.8,24.9 L60.5,30.1 L62.4,30.7 L63.7,34.7 L66.0,41.0 L68.0,47.1 L69.6,51.0 L71.5,57.5 L74.2,60.0 L75.3,65.5 L76.8,67.8 L79.2,68.0 L79.4,74.1 L96.2,74.3 L96.5,77.5 L100.2,77.5 L100.4,81.4 L119.2,81.4 L119.4,89.1 L138.8,89.1 L139.4,92.0 L142.3,92.3" fill="none" stroke="#a8c6ad" stroke-width="1.05" stroke-linejoin="miter"/>
<path d="M55.5,24.9 L57.3,33.0 L59.3,46.0 L61.3,53.8 L62.9,61.7 L64.0,67.1 L64.5,73.0 L65.7,78.3 L67.4,83.2 L71.9,86.3 L73.6,89.0 L76.3,89.4 L78.5,91.6 L80.3,92.5 L83.9,93.4 L86.1,95.2 L87.8,97.8 L91.4,98.7 L95.0,101.8 L102.0,101.8 L105.2,103.6 L112.1,104.3 L113.6,108.9 L135.2,108.9 L139.2,111.5 L146.7,111.5 L147.5,113.0 L164.5,113.0 L165.5,114.4 L218.8,114.4" fill="none" stroke="#929eb5" stroke-width="1.05" stroke-linejoin="miter"/>
<path d="M107.7,81.4 H109.5 M108.6,80.5 V82.3" stroke="#b8c4b8" stroke-width="0.7"/>
<path d="M190.3,92.5 H192.1 M191.2,91.6 V93.4" stroke="#b8c4b8" stroke-width="0.7"/>
<path d="M198.5,92.5 H200.3 M199.4,91.6 V93.4" stroke="#b8c4b8" stroke-width="0.7"/>
<path d="M220.1,92.5 H221.9 M221.0,91.6 V93.4" stroke="#b8c4b8" stroke-width="0.7"/>
<path d="M169.5,114.4 H171.3 M170.4,113.5 V115.3" stroke="#b0b8c4" stroke-width="0.7"/>
<path d="M177.9,114.4 H179.7 M178.8,113.5 V115.3" stroke="#b0b8c4" stroke-width="0.7"/>
<path d="M191.1,114.4 H192.9 M192.0,113.5 V115.3" stroke="#b0b8c4" stroke-width="0.7"/>
<path d="M198.7,114.4 H200.5 M199.6,113.5 V115.3" stroke="#b0b8c4" stroke-width="0.7"/>
<path d="M217.9,114.4 H219.7 M218.8,113.5 V115.3" stroke="#b0b8c4" stroke-width="0.7"/>
</g>
<rect x="0" y="0" width="520" height="1" fill="#444"/>
<rect x="0" y="382" width="520" height="1" fill="#444"/>
<rect x="0" y="0" width="1" height="383" fill="#555"/>
<rect x="519" y="0" width="1" height="383" fill="#333"/>
</svg></body></html>
